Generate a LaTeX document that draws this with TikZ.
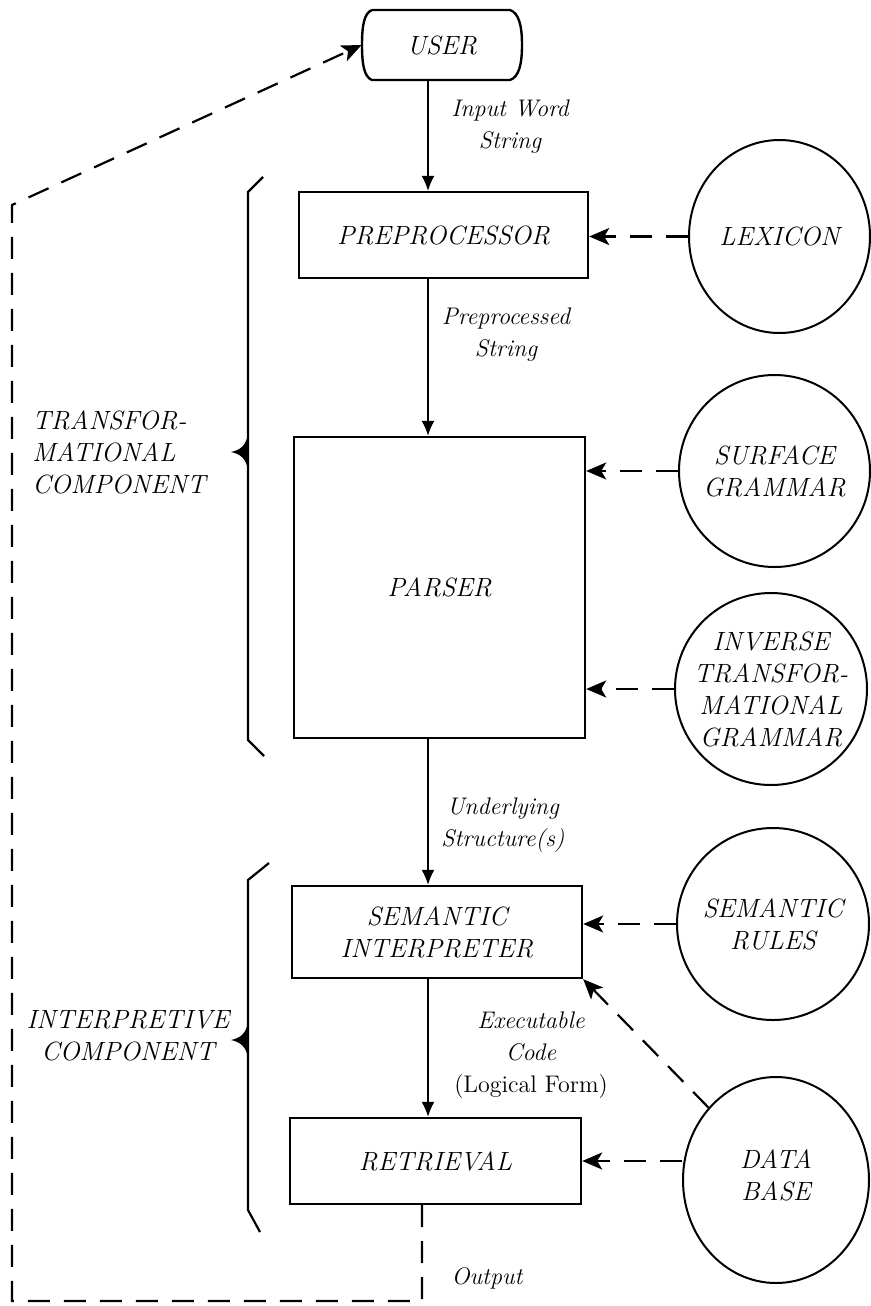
\documentclass[tikz,border=0pt]{standalone}
\usepackage{fontspec}
\usetikzlibrary{arrows.meta,shapes.geometric}
\begin{document}
\begin{tikzpicture}[x=0.5pt,y=-0.5pt,
  txt/.style={font=\fontsize{12}{16}\selectfont\itshape},
  caps/.style={font=\fontsize{13.2}{16}\selectfont\itshape},
  lbl/.style={txt, align=center, inner sep=0pt},
  clbl/.style={caps, align=center, inner sep=0pt},
  boxn/.style={caps, draw, line width=1.2pt, inner sep=0pt, align=center},
  circn/.style={draw, ellipse, line width=1pt, inner sep=0pt},
  flow/.style={line width=0.7pt, -{Latex[length=7.5pt,width=6.5pt]}},
  feed/.style={line width=1.1pt, dash pattern=on 11pt off 7pt, -{Stealth[length=10pt,width=8.5pt,inset=2.5pt]}},
  bracen/.style={line width=1.1pt}
]
\useasboundingbox (0,0) rectangle (871,1306);

% USER terminal
\draw[line width=1.2pt] (372,10) -- (510,10) .. controls (519,13) and (522,26) .. (522,45)
  .. controls (522,64) and (519,77) .. (510,80) -- (372,80)
  .. controls (364,77) and (362,64) .. (362,45) .. controls (362,26) and (364,13) .. (372,10);
\node[clbl, minimum width=80pt, minimum height=35pt] (user) at (442,45) {USER};

% boxes
\node[boxn, minimum width=144.5pt, minimum height=43pt] (pre) at (443.5,235) {PREPROCESSOR};
\node[boxn, minimum width=145.5pt, minimum height=150.5pt] (par) at (439.5,587.5) {PARSER};
\node[boxn, minimum width=145pt, minimum height=46pt] (si) at (437,932) {SEMANTIC\\INTERPRETER};
\node[boxn, minimum width=145.5pt, minimum height=43pt] (ret) at (435.5,1161) {RETRIEVAL};

% circles
\node[circn, minimum width=90.5pt, minimum height=96.5pt] (lex) at (779.5,236.5) {};
\node[clbl] (lext) at (lex) {LEXICON};
\node[circn, minimum width=95.5pt, minimum height=96pt] (surf) at (774.5,471) {};
\node[clbl] (surft) at (surf) {SURFACE\\GRAMMAR};
\node[circn, minimum width=96pt, minimum height=96pt] (inv) at (771,689) {};
\node[clbl] (invt) at (inv) {INVERSE\\TRANSFOR-\\MATIONAL\\GRAMMAR};
\node[circn, minimum width=96pt, minimum height=96pt] (sr) at (773,924) {};
\node[clbl] (srt) at (sr) {SEMANTIC\\RULES};
\node[circn, minimum width=93pt, minimum height=103pt] (db) at (776,1180) {};
\node[clbl] (dbt) at (776,1175) {DATA\\BASE};

% labels
\node[lbl] (l1) at (510,127) {Input Word\\String};
\node[lbl] (l2) at (506,335) {Preprocessed\\String};
\node[lbl] (l3) at (503,825) {Underlying\\Structure(s)};
\node[lbl] (l4) at (531,1055) {Executable\\Code\\{\upshape(Logical Form)}};
\node[lbl] (l5) at (487,1278) {Output};
\node[clbl, align=left, anchor=west] (tc) at (32,452) {TRANSFOR-\\MATIONAL\\COMPONENT};
\node[clbl] (ic) at (128,1036) {INTERPRETIVE\\COMPONENT};

% main flow
\coordinate (colx) at (428,0);
\draw[flow] (user.south -| colx) -- (pre.north -| colx);
\draw[flow] (pre.south -| colx) -- (par.north -| colx);
\draw[flow] (par.south -| colx) -- (si.north -| colx);
\draw[flow] (si.south -| colx) -- (ret.north -| colx);

% knowledge sources
\draw[feed] (lex.west) -- (lex.west -| pre.east);
\draw[feed] (surf.west) -- (surf.west -| par.east);
\draw[feed] (inv.west) -- (inv.west -| par.east);
\draw[feed] (sr.west) -- (sr.west -| si.east);
\draw[feed] (ret.east -| db.west) -- (ret.east);
\draw[feed] (db.133) -- (si.south east);

% output feedback
\coordinate (outx) at (422,0);
\coordinate (fbbl) at (12,1301);
\coordinate (fbtl) at (12,205);
\draw[feed] (ret.south -| outx) -- (outx |- fbbl) -- (fbbl) -- (fbtl) -- (user.west);

% braces
\draw[bracen] (263,177) -- (248,192) -- (248,740) -- (264,756);
\fill (248,434) .. controls (246,446) and (240,450) .. (231,452) .. controls (240,454) and (246,458) .. (248,470) -- cycle;
\draw[bracen] (269,863) -- (248,880) -- (248,1210) -- (260,1232);
\fill (248,1022) .. controls (246,1034) and (240,1038) .. (231,1040) .. controls (240,1042) and (246,1046) .. (248,1058) -- cycle;
\end{tikzpicture}
\end{document}
